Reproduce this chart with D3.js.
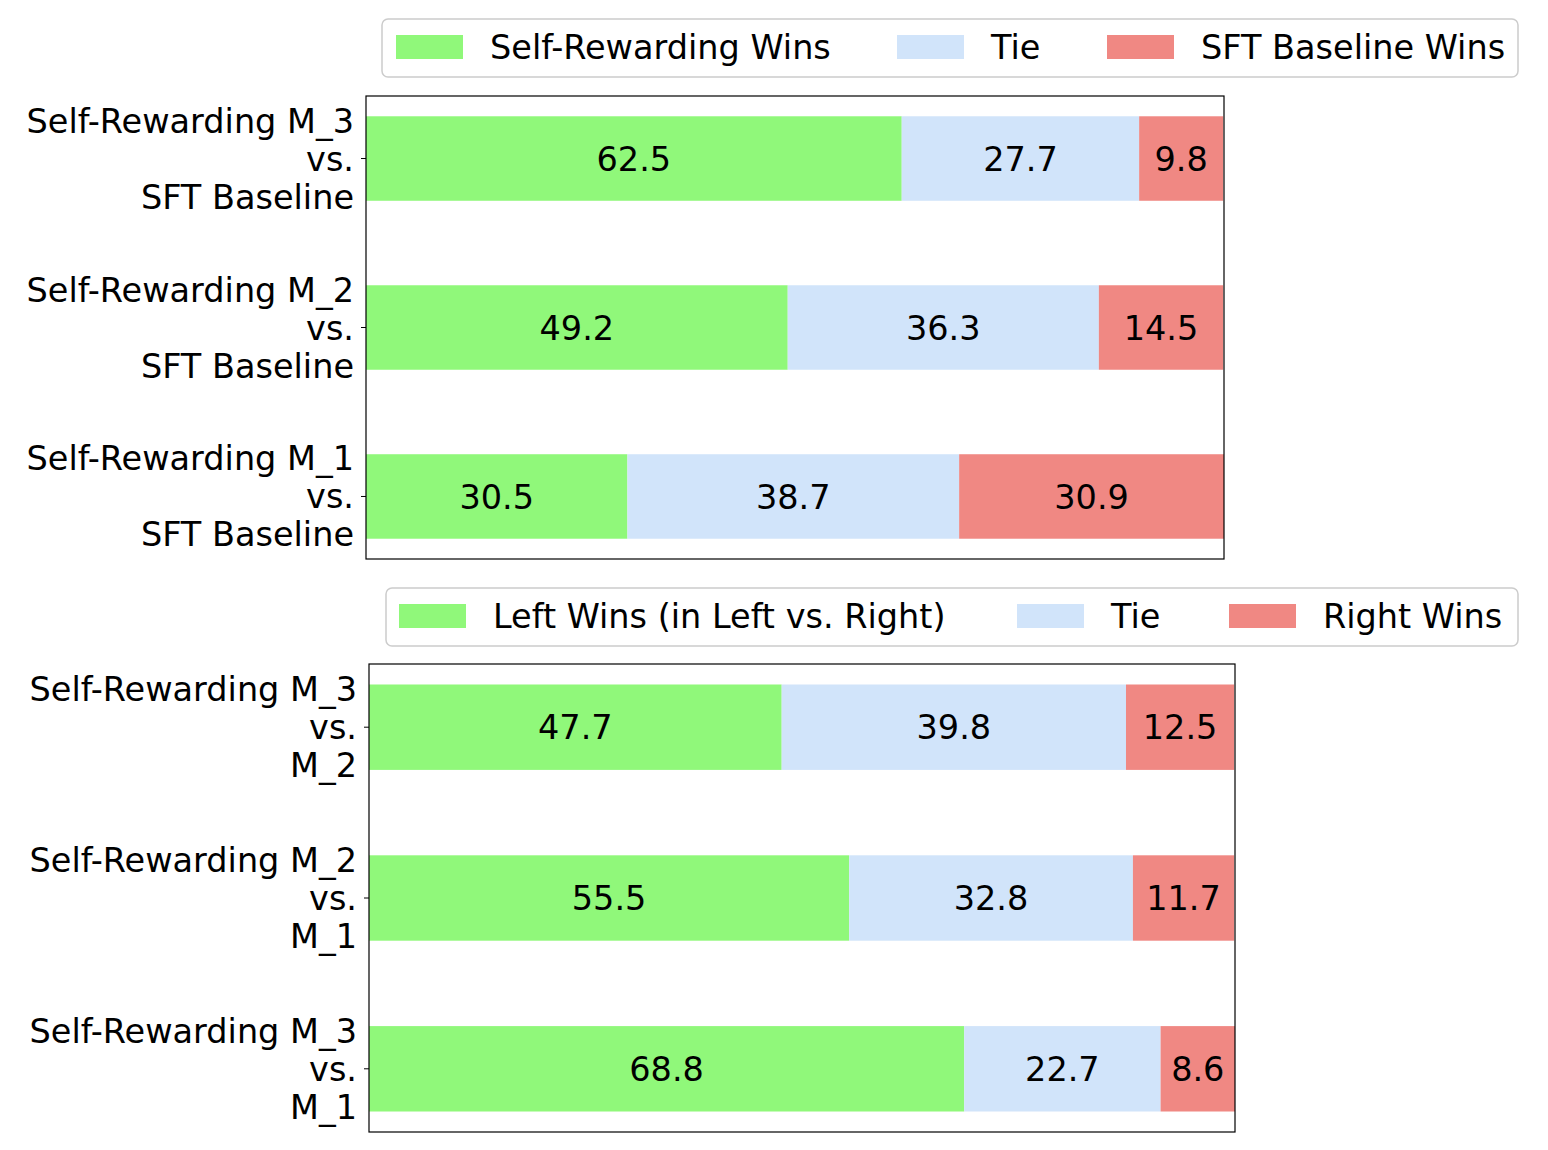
<!DOCTYPE html>
<html>
<head>
<meta charset="utf-8">
<script src="https://cdn.jsdelivr.net/npm/d3@7"></script>
<style>body{margin:0;background:#fff}</style>
</head>
<body>
<script>
"use strict";

// Data
const topLabels = [["Self-Rewarding M_3", "vs.", "SFT Baseline"], ["Self-Rewarding M_2", "vs.", "SFT Baseline"], ["Self-Rewarding M_1", "vs.", "SFT Baseline"]];
const topWins = [62.5, 49.2, 30.5];
const topTie = [27.7, 36.3, 38.7];
const topLoss = [9.8, 14.5, 30.9];
const topLegend = ["Self-Rewarding Wins", "Tie", "SFT Baseline Wins"];

const botLabels = [["Self-Rewarding M_3", "vs.", "M_2"], ["Self-Rewarding M_2", "vs.", "M_1"], ["Self-Rewarding M_3", "vs.", "M_1"]];
const botWins = [47.7, 55.5, 68.8];
const botTie = [39.8, 32.8, 22.7];
const botLoss = [12.5, 11.7, 8.6];
const botLegend = ["Left Wins (in Left vs. Right)", "Tie", "Right Wins"];

const colors = ["#90f87a", "#d1e4fa", "#f08883"];
const font = "DejaVu Sans, sans-serif";
const fs = 33.5;

const svg = d3.select("body").append("svg").attr("width", 1548).attr("height", 1150);

function DrawPanel(opt) {
    const rows = opt.labels.map((l, i) => ({ label: l, vals: [opt.wins[i], opt.tie[i], opt.loss[i]] }));
    const total = d3.max(rows, r => d3.sum(r.vals));
    const x = d3.scaleLinear().domain([0, total]).range([opt.x0, opt.x1]);
    const y = d3.scalePoint().domain(d3.range(rows.length)).range([opt.y0, opt.y1]).padding(0.37);
    const bh = y.step() * 0.5;

    const g = svg.append("g");
    rows.forEach((r, i) => {
        const cy = y(i);
        let acc = 0;
        r.vals.forEach((v, k) => {
            const xa = x(acc), xb = x(acc + v);
            g.append("rect").attr("x", xa).attr("y", cy - bh / 2).attr("width", xb - xa).attr("height", bh).attr("fill", colors[k]);
            g.append("text").attr("x", (xa + xb) / 2).attr("y", cy).attr("dy", "0.36em")
                .attr("text-anchor", "middle").attr("font-family", font).attr("font-size", fs).text(v.toFixed(1));
            acc += v;
        });
        g.append("line").attr("x1", opt.x0 - 5).attr("x2", opt.x0).attr("y1", cy).attr("y2", cy).attr("stroke", "#000");
        const t = g.append("text").attr("text-anchor", "end").attr("font-family", font).attr("font-size", fs);
        r.label.forEach((s, j) => t.append("tspan").attr("x", opt.x0 - 12).attr("y", cy + (j - 1) * 38 + 12).text(s));
    });
    g.append("rect").attr("x", opt.x0).attr("y", opt.y0).attr("width", opt.x1 - opt.x0).attr("height", opt.y1 - opt.y0)
        .attr("fill", "none").attr("stroke", "#000").attr("stroke-width", 1.2);

    // Legend
    const L = opt.legend;
    svg.append("rect").attr("x", L.x).attr("y", L.y).attr("width", L.w).attr("height", 58).attr("rx", 6)
        .attr("fill", "#fff").attr("stroke", "#ccc").attr("stroke-width", 1.5);
    opt.names.forEach((n, k) => {
        svg.append("rect").attr("x", L.px[k]).attr("y", L.y + 16).attr("width", 67).attr("height", 24).attr("fill", colors[k]);
        svg.append("text").attr("x", L.px[k] + 94).attr("y", L.y + 28).attr("dy", "0.36em")
            .attr("font-family", font).attr("font-size", fs).text(n);
    });
}

DrawPanel({ labels: topLabels, wins: topWins, tie: topTie, loss: topLoss, names: topLegend,
    x0: 366, x1: 1224, y0: 96, y1: 559,
    legend: { x: 382, y: 19, w: 1136, px: [396, 897, 1107] } });
DrawPanel({ labels: botLabels, wins: botWins, tie: botTie, loss: botLoss, names: botLegend,
    x0: 369, x1: 1235, y0: 664, y1: 1132,
    legend: { x: 386, y: 588, w: 1132, px: [399, 1017, 1229] } });
</script>
</body>
</html>
